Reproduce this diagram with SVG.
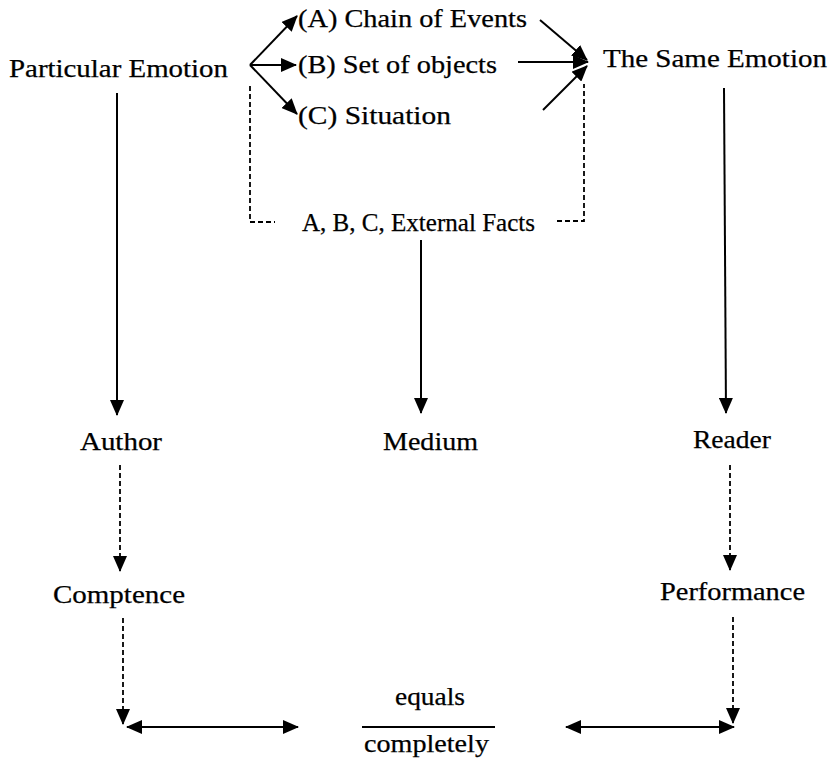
<svg xmlns="http://www.w3.org/2000/svg" width="831" height="766" viewBox="0 0 831 766">
<style>
text{font-family:"Liberation Serif","Times New Roman",serif;font-size:25px;fill:#000;stroke:#000;stroke-width:0.25}
.c{stroke:#000;stroke-width:2;fill:none}
.d{stroke:#000;stroke-width:1.8;fill:none;stroke-dasharray:5 3}
.a{marker-end:url(#ah)}
.b{marker-start:url(#ah);marker-end:url(#ah)}
</style>
<defs>
<marker id="ah" markerUnits="userSpaceOnUse" markerWidth="16" markerHeight="14" refX="15" refY="7" orient="auto-start-reverse" viewBox="0 0 16 14">
<path d="M0,0 L16,7 L0,14 z" fill="#000"/>
</marker>
</defs>
<rect width="831" height="766" fill="#fff"/>
<g id="connectors">
<line class="c a" x1="117" y1="93" x2="117" y2="415"/>
<line class="c a" x1="724" y1="88" x2="726" y2="413"/>
<line class="c a" x1="421" y1="240" x2="421" y2="413"/>
<line class="c a" x1="250" y1="65" x2="297" y2="16"/>
<line class="c a" x1="250" y1="65" x2="296" y2="65"/>
<line class="c a" x1="250" y1="65" x2="297" y2="114"/>
<line class="c a" x1="540" y1="20" x2="587" y2="60"/>
<line class="c a" x1="518" y1="62" x2="588" y2="62"/>
<line class="c a" x1="543" y1="110" x2="587" y2="66"/>
<path class="d" d="M250,86 V222 H275"/>
<path class="d" d="M557,221 H584 V84"/>
<line class="d a" x1="120" y1="465" x2="120" y2="571"/>
<line class="d a" x1="123" y1="618" x2="123" y2="724"/>
<line class="d a" x1="730" y1="465" x2="730" y2="570"/>
<line class="d a" x1="733" y1="617" x2="733" y2="723"/>
<line class="c b" x1="127" y1="727" x2="298" y2="727"/>
<line class="c b" x1="566" y1="727" x2="734" y2="727"/>
<line class="c" x1="362" y1="727" x2="495" y2="727" stroke-width="2.2"/>
</g>
<g id="particular-emotion"><text x="9" y="77" textLength="219" lengthAdjust="spacingAndGlyphs">Particular Emotion</text></g>
<g id="chain-of-events"><text x="298" y="27" textLength="229" lengthAdjust="spacingAndGlyphs">(A) Chain of Events</text></g>
<g id="set-of-objects"><text x="298" y="73" textLength="199" lengthAdjust="spacingAndGlyphs">(B) Set of objects</text></g>
<g id="situation"><text x="298" y="124" textLength="153" lengthAdjust="spacingAndGlyphs">(C) Situation</text></g>
<g id="same-emotion"><text x="603" y="67" textLength="224" lengthAdjust="spacingAndGlyphs">The Same Emotion</text></g>
<g id="external-facts"><text x="302" y="231" textLength="233" lengthAdjust="spacingAndGlyphs">A, B, C, External Facts</text></g>
<g id="author"><text x="80" y="450" textLength="82" lengthAdjust="spacingAndGlyphs">Author</text></g>
<g id="medium"><text x="383" y="450" textLength="95" lengthAdjust="spacingAndGlyphs">Medium</text></g>
<g id="reader"><text x="693" y="448" textLength="78" lengthAdjust="spacingAndGlyphs">Reader</text></g>
<g id="comptence"><text x="53" y="603" textLength="132" lengthAdjust="spacingAndGlyphs">Comptence</text></g>
<g id="performance"><text x="660" y="600" textLength="145" lengthAdjust="spacingAndGlyphs">Performance</text></g>
<g id="equals"><text x="395" y="705" textLength="70" lengthAdjust="spacingAndGlyphs">equals</text></g>
<g id="completely"><text x="364" y="752" textLength="125" lengthAdjust="spacingAndGlyphs">completely</text></g>
</svg>
